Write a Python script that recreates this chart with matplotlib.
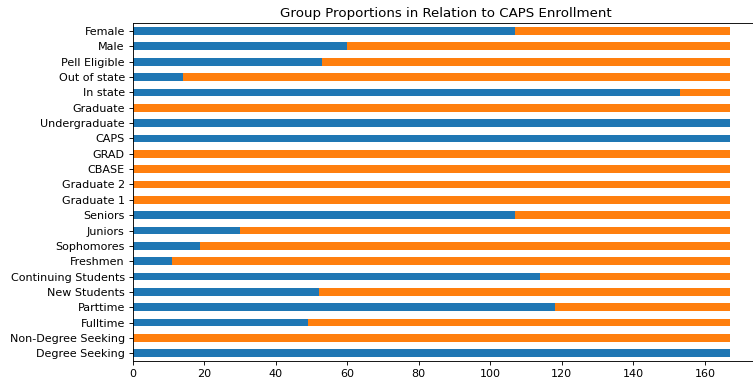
import matplotlib
matplotlib.use("Agg")
import matplotlib.pyplot as plt
import numpy as np

groups = ["Degree Seeking", "Non-Degree Seeking", "Fulltime", "Parttime",
          "New Students", "Continuing Students", "Freshmen", "Sophomores",
          "Juniors", "Seniors", "Graduate 1", "Graduate 2", "CBASE", "GRAD",
          "CAPS", "Undergraduate", "Graduate", "In state", "Out of state",
          "Pell Eligible", "Male", "Female"]
in_group = [167, 0, 49, 118, 52, 114, 11, 19, 30, 107, 0, 0, 0, 0,
            167, 167, 0, 153, 14, 53, 60, 107]
total = 167
not_in_group = [total - v for v in in_group]

DPI = 80
fig = plt.figure(figsize=(753 / DPI, 382 / DPI), dpi=DPI)
ax = fig.add_axes([0.176, 0.055, 0.833, 0.884])

y = np.arange(len(groups))
ax.barh(y, in_group, height=0.5, color="#1f77b4")
ax.barh(y, not_in_group, left=in_group, height=0.5, color="#ff7f0e")

ax.set_yticks(y)
ax.set_yticklabels(groups)
ax.set_ylim(-0.5, len(groups) - 0.5)
ax.set_xlim(0, total * 1.05)
ax.set_xticks(np.arange(0, 161, 20))
ax.set_title("Group Proportions in Relation to CAPS Enrollment")

fig.savefig("out.png", dpi=DPI)
